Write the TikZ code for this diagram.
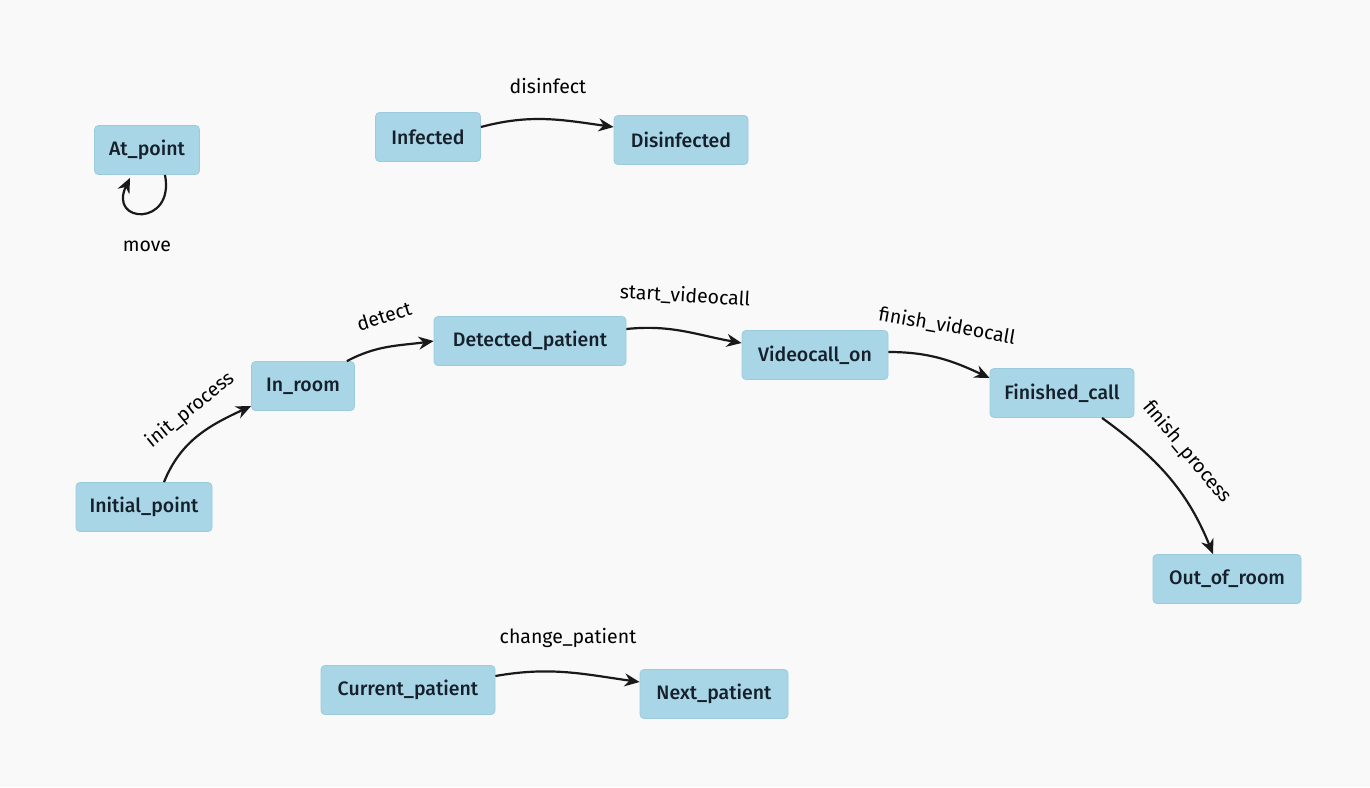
\documentclass[tikz,border=0pt]{standalone}
\usepackage{fontspec}
\setmainfont{Fira Sans}[BoldFont={Fira Sans Medium}]
\usetikzlibrary{arrows.meta}
\definecolor{bgcol}{HTML}{F9F9F9}
\definecolor{statefill}{HTML}{A9D6E6}
\definecolor{stateedge}{HTML}{9ACBDD}
\definecolor{inkcol}{HTML}{15202C}
\tikzset{
  state/.style={draw=stateedge, line width=0.8pt, fill=statefill, rounded corners=4pt,
    minimum height=49pt, inner sep=0pt, text=inkcol,
    font=\fontsize{19.5}{22}\selectfont\bfseries},
  trans/.style={line width=2.2pt, draw=black!90, -{Stealth[length=15pt,width=13pt]}},
  lbl/.style={text=black, inner sep=0pt, font=\fontsize{19.5}{22}\selectfont}
}
\begin{document}
\begin{tikzpicture}[x=1pt,y=1pt]
  \fill[bgcol] (0,0) rectangle (1370,-787);
  \useasboundingbox (0,0) rectangle (1370,-787);

  % states
  \node[state, minimum width=105pt] (atp) at (147,-150) {At\_point};
  \node[state, minimum width=105pt] (inf) at (428,-137) {Infected};
  \node[state, minimum width=134pt] (dis) at (681,-140) {Disinfected};
  \node[state, minimum width=103pt] (inr) at (303,-386) {In\_room};
  \node[state, minimum width=192pt] (det) at (530,-341) {Detected\_patient};
  \node[state, minimum width=146pt] (vid) at (815,-355) {Videocall\_on};
  \node[state, minimum width=144pt] (fin) at (1062,-393) {Finished\_call};
  \node[state, minimum width=136pt] (ini) at (144,-507) {Initial\_point};
  \node[state, minimum width=148pt] (out) at (1227,-579) {Out\_of\_room};
  \node[state, minimum width=174pt] (cur) at (408,-690) {Current\_patient};
  \node[state, minimum width=148pt] (nxt) at (714,-694) {Next\_patient};

  % self loop
  \draw[trans] ([xshift=18pt]atp.south) .. controls +(10,-52) and +(-22,-46) .. ([xshift=-17pt,yshift=-3pt]atp.south);
  \node[lbl] (lmove) at (147,-246) {move};

  % transitions
  \draw[trans] ([yshift=10pt]inf.east) to[out=15,in=172] ([yshift=13pt]dis.west);
  \node[lbl] (ldis) at (548,-86) {disinfect};

  \draw[trans] ([xshift=20pt]ini.north) to[out=68,in=205] ([yshift=-20pt]inr.west);
  \node[lbl, rotate=39] (linit) at (190,-410) {init\_process};

  \draw[trans] ([xshift=-8pt]inr.north east) to[out=28,in=188] (det.west);
  \node[lbl, rotate=17] (ldet) at (384,-316) {detect};

  \draw[trans] ([yshift=12pt]det.east) to[out=6,in=170] ([yshift=12pt]vid.west);
  \node[lbl, rotate=-3.5] (lstart) at (685,-296) {start\_videocall};

  \draw[trans] ([yshift=3pt]vid.east) to[out=0,in=155] ([yshift=15pt]fin.west);
  \node[lbl, rotate=-10] (lfinv) at (947,-326) {finish\_videocall};

  \draw[trans] ([xshift=40pt]fin.south) to[out=-36,in=112] ([xshift=-14pt]out.north);
  \node[lbl, rotate=-50] (lfinp) at (1187,-452) {finish\_process};

  \draw[trans] ([yshift=14pt]cur.east) to[out=10,in=172] ([yshift=12pt]nxt.west);
  \node[lbl] (lchg) at (568,-638) {change\_patient};
\end{tikzpicture}
\end{document}
